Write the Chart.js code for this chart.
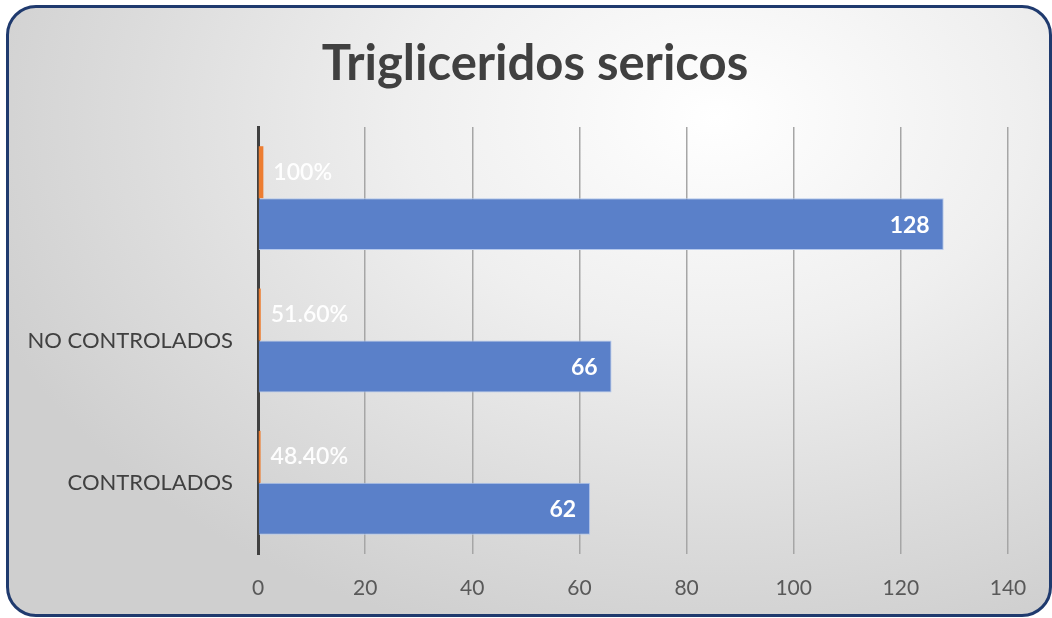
<!DOCTYPE html>
<html>
<head>
<meta charset="utf-8">
<script src="https://cdn.jsdelivr.net/npm/chart.js@4.4.1/dist/chart.umd.min.js"></script>
<style>
  html, body { margin: 0; padding: 0; width: 1052px; height: 618px; overflow: hidden; background: #ffffff; }
  .frame {
    position: absolute; left: 6px; top: 5px; width: 1040px; height: 606px;
    border: 3px solid #1f3a6e; border-radius: 30px;
    background: radial-gradient(ellipse 75% 90% at 68% 18%, #ffffff 0%, #efefef 40%, #dcdcdc 75%, #cfcfcf 100%);
  }
  #wrap { position: absolute; left: 0; top: 0; width: 1052px; height: 618px; }
</style>
</head>
<body>
<div class="frame"></div>
<div id="wrap"><canvas id="chart" width="1052" height="618"></canvas></div>
<script>
// datos
const chartTitle = "Trigliceridos sericos";
const categories = ["", "NO CONTROLADOS", "CONTROLADOS"];
const porcentaje = [1, 0.516, 0.484];
const porcentajeLabels = ["100%", "51.60%", "48.40%"];
const pacientes = [128, 66, 62];
const xTicks = [0, 20, 40, 60, 80, 100, 120, 140];

// titulo (centrado como en el original, un poco a la derecha)
const titlePlugin = {
  id: "titlePlugin",
  afterDraw(chart) {
    const ctx = chart.ctx;
    ctx.save();
    ctx.fillStyle = "#404040";
    ctx.font = "bold 49px Lato";
    ctx.textAlign = "center";
    ctx.textBaseline = "alphabetic";
    ctx.fillText(chartTitle, 535, 80);
    ctx.restore();
  }
};

// etiquetas de datos
const valueLabels = {
  id: "valueLabels",
  afterDatasetsDraw(chart) {
    const ctx = chart.ctx;
    ctx.save();
    ctx.textBaseline = "middle";
    chart.getDatasetMeta(0).data.forEach(function (bar, i) {
      ctx.fillStyle = "rgba(255,255,255,0.95)";
      ctx.font = "600 23px Lato";
      ctx.textAlign = "left";
      ctx.fillText(porcentajeLabels[i], bar.x + 10, bar.y);
    });
    chart.getDatasetMeta(1).data.forEach(function (bar, i) {
      ctx.fillStyle = "#ffffff";
      ctx.font = "bold 23px Lato";
      ctx.textAlign = "right";
      ctx.fillText(String(pacientes[i]), bar.x - 14, bar.y + 1);
    });
    ctx.restore();
  }
};

new Chart(document.getElementById("chart"), {
  type: "bar",
  data: {
    labels: categories,
    datasets: [
      {
        label: "Porcentaje",
        data: porcentaje,
        backgroundColor: "#ED7D31",
        categoryPercentage: 0.73,
        barPercentage: 1,
      },
      {
        label: "Pacientes",
        data: pacientes,
        backgroundColor: "#5a80c9",
        borderColor: "#b4c8ec",
        borderWidth: 1,
        categoryPercentage: 0.73,
        barPercentage: 1,
      },
    ],
  },
  options: {
    indexAxis: "y",
    responsive: false,
    animation: false,
    layout: { padding: { left: 0, right: 44, top: 127, bottom: 0 } },
    plugins: {
      legend: { display: false },
      tooltip: { enabled: false },
      title: { display: false },
    },
    scales: {
      x: {
        min: 0,
        max: 140,
        afterBuildTicks(scale) {
          scale.ticks = xTicks.map(function (v) { return { value: v }; });
        },
        afterFit(scale) { scale.height = 64; },
        grid: { color: "#a6a6a6", lineWidth: 1.5, drawTicks: false },
        border: { display: false },
        ticks: { color: "#595959", padding: 22, font: { family: "Lato", size: 21 } },
      },
      y: {
        afterFit(scale) { scale.width = 258; },
        grid: { display: false, drawTicks: false },
        border: { display: true, color: "#404040", width: 3 },
        ticks: { color: "#404040", padding: 25, font: { family: "Lato", size: 22 } },
      },
    },
  },
  plugins: [valueLabels, titlePlugin],
});
</script>
</body>
</html>
